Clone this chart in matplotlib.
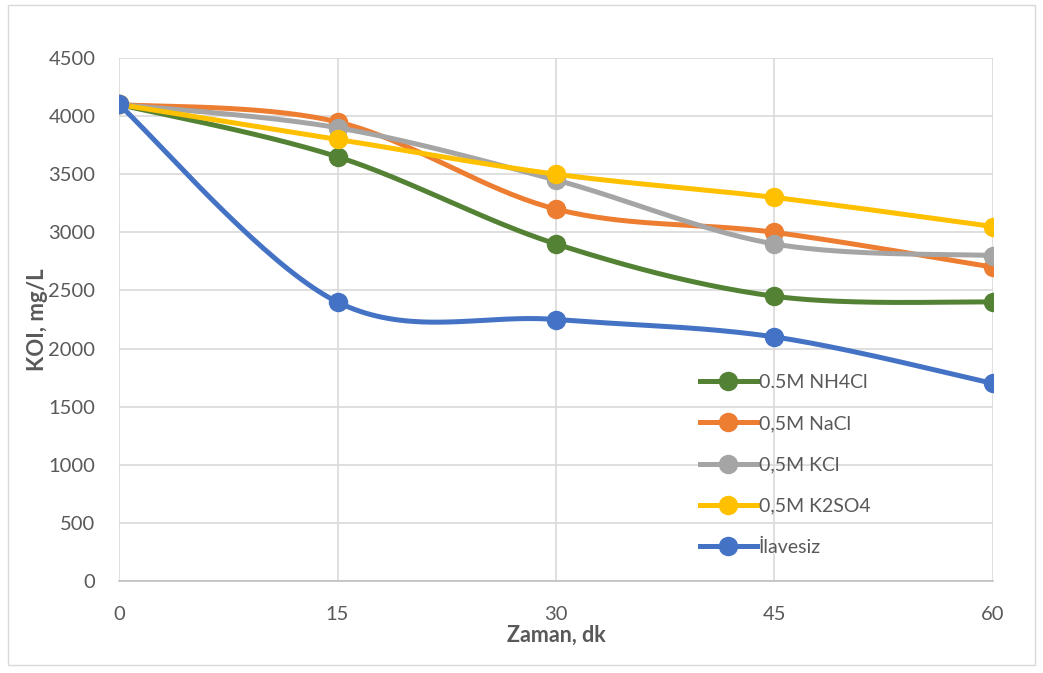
import numpy as np
import matplotlib.pyplot as plt
from matplotlib.patches import Rectangle

plt.rcParams['font.family'] = ['Lato', 'DejaVu Sans']

zaman = [0, 15, 30, 45, 60]
nh4cl = [4100, 3650, 2900, 2450, 2400]
nacl = [4100, 3950, 3200, 3000, 2700]
kcl = [4100, 3900, 3450, 2900, 2800]
k2so4 = [4100, 3800, 3500, 3300, 3050]
ilavesiz = [4100, 2400, 2250, 2100, 1700]

series = [
    ('0.5M NH4Cl', nh4cl, '#548235'),
    ('0,5M NaCl', nacl, '#ED7D31'),
    ('0,5M KCl', kcl, '#A5A5A5'),
    ('0,5M K2SO4', k2so4, '#FFC000'),
    ('İlavesiz', ilavesiz, '#4472C4'),
]


def smooth(x, y, n=40):
    # cubic bezier between points, control points from neighbours (office style)
    x = np.asarray(x, float)
    y = np.asarray(y, float)
    px, py = [], []
    for i in range(len(x) - 1):
        i0 = max(i - 1, 0)
        i3 = min(i + 2, len(x) - 1)
        c1x = x[i] + (x[i + 1] - x[i0]) / 6
        c1y = y[i] + (y[i + 1] - y[i0]) / 6
        c2x = x[i + 1] - (x[i3] - x[i]) / 6
        c2y = y[i + 1] - (y[i3] - y[i]) / 6
        t = np.linspace(0, 1, n)
        bx = (1 - t)**3 * x[i] + 3 * (1 - t)**2 * t * c1x + 3 * (1 - t) * t**2 * c2x + t**3 * x[i + 1]
        by = (1 - t)**3 * y[i] + 3 * (1 - t)**2 * t * c1y + 3 * (1 - t) * t**2 * c2y + t**3 * y[i + 1]
        px.extend(bx)
        py.extend(by)
    return px, py


fig = plt.figure(figsize=(10.43, 6.73), dpi=100)
ax = fig.add_axes([119 / 1043, 1 - 581 / 673, (993 - 119) / 1043, (581 - 58) / 673])

fig.patches.append(Rectangle((8 / 1043, 1 - 665 / 673), 1027 / 1043, 660 / 673,
                             transform=fig.transFigure, fill=False,
                             edgecolor='#D9D9D9', linewidth=1))

for label, vals, color in series:
    sx, sy = smooth(zaman, vals)
    ax.plot(sx, sy, color=color, linewidth=3.6, solid_capstyle='round')
    ax.plot(zaman, vals, linestyle='none', marker='o', markersize=13, color=color)
    ax.plot([], [], color=color, linewidth=3.6, marker='o', markersize=13, label=label)

ax.set_xlim(0, 60)
ax.set_ylim(0, 4500)
ax.set_xticks(zaman)
ax.set_yticks(np.arange(0, 4501, 500))
ax.grid(True, color='#D9D9D9', linewidth=1.2)
ax.set_axisbelow(True)
for s in ['top', 'right', 'left']:
    ax.spines[s].set_visible(False)
ax.spines['bottom'].set_color('#BFBFBF')
ax.spines['bottom'].set_linewidth(1.2)
ax.tick_params(length=0, labelsize=14.5, labelcolor='#595959')
ax.tick_params(axis='x', pad=18)
ax.tick_params(axis='y', pad=17)

ax.set_xlabel('Zaman, dk', fontsize=15.5, fontweight='bold', color='#595959', labelpad=1)
ax.set_ylabel('KOI, mg/L', fontsize=16, fontweight='bold', color='#595959', labelpad=0)

ax.legend(loc='center left', bbox_to_anchor=(0.645, 0.222), frameon=False,
          fontsize=14, labelcolor='#595959', handlelength=2.9,
          handletextpad=0.1, labelspacing=1.25)

fig.savefig('out.png', dpi=100)
